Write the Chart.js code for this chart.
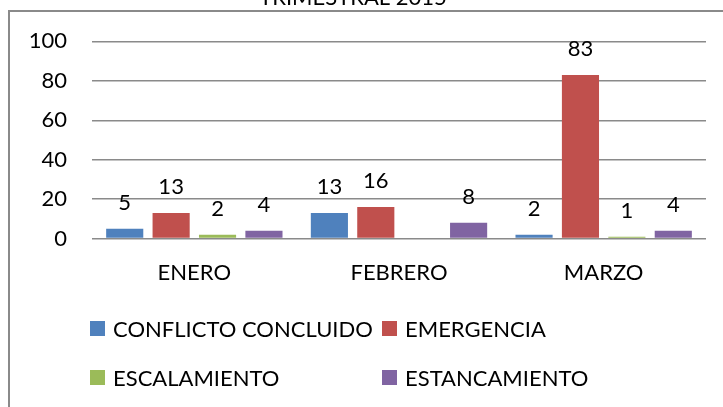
<!DOCTYPE html>
<html>
<head>
<meta charset="utf-8">
<script src="https://cdn.jsdelivr.net/npm/chart.js@4/dist/chart.umd.min.js"></script>
<style>
  body { margin: 0; background: #fff; width: 723px; height: 407px; overflow: hidden; position: relative; font-family: Lato, "Open Sans", sans-serif; }
  #c { position: absolute; left: 0; top: -15px; }
  .frame { position: absolute; left: 8px; top: 10px; width: 800px; height: 500px; border: 2px solid #8a8a8a; box-sizing: border-box; pointer-events: none; }
  #legend { position: absolute; left: 90px; top: 316px; display: grid; grid-template-columns: 292px auto; row-gap: 24px; }
  .item { display: flex; align-items: center; height: 25px; font-size: 22px; color: #000; }
  .sw { width: 15px; height: 15px; margin-right: 8px; }
</style>
</head>
<body>
<div class="frame"></div>
<canvas id="c" width="723" height="422"></canvas>
<div id="legend"></div>
<script>
const categories = ["ENERO", "FEBRERO", "MARZO"];
const seriesNames = ["CONFLICTO CONCLUIDO", "EMERGENCIA", "ESCALAMIENTO", "ESTANCAMIENTO"];
const conflictoConcluido = [5, 13, 2];
const emergencia = [13, 16, 83];
const escalamiento = [2, null, 1];
const estancamiento = [4, 8, 4];
const yTicks = [0, 20, 40, 60, 80, 100];
const colors = ["#4F81BD", "#C0504D", "#9BBB59", "#8064A2"];

const FONT = "Lato";

// numbers above the bars
const barLabels = {
  id: "barLabels",
  afterDatasetsDraw(chart) {
    const ctx = chart.ctx;
    ctx.save();
    ctx.font = "22px " + FONT;
    ctx.fillStyle = "#000";
    ctx.textAlign = "center";
    ctx.textBaseline = "alphabetic";
    chart.data.datasets.forEach((ds, i) => {
      const meta = chart.getDatasetMeta(i);
      meta.data.forEach((bar, j) => {
        const v = ds.data[j];
        if (v === null || v === undefined) return;
        ctx.fillText(String(v), bar.x, bar.y - 19);
      });
    });
    ctx.restore();
  }
};

const allSeries = [conflictoConcluido, emergencia, escalamiento, estancamiento];

new Chart(document.getElementById("c"), {
  type: "bar",
  data: {
    labels: categories,
    datasets: allSeries.map((d, i) => ({
      label: seriesNames[i],
      data: d,
      backgroundColor: colors[i],
      barPercentage: 0.8,
      categoryPercentage: 0.907
    }))
  },
  options: {
    responsive: false,
    devicePixelRatio: 1,
    animation: false,
    layout: { padding: { left: 0, right: 17, top: 0, bottom: 100 } },
    plugins: {
      legend: { display: false },
      tooltip: { enabled: false },
      title: {
        display: true,
        text: "TRIMESTRAL 2015",
        color: "#000",
        font: { family: FONT, size: 22, weight: "normal" },
        padding: { top: 0, bottom: 30 }
      }
    },
    scales: {
      x: {
        grid: { display: false, drawTicks: false },
        border: { display: false },
        ticks: { color: "#000", font: { family: FONT, size: 22 }, padding: 21 }
      },
      y: {
        min: 0,
        max: 100,
        afterBuildTicks: (s) => { s.ticks = yTicks.map(v => ({ value: v })); },
        afterFit: (s) => { s.width = 92; },
        grid: { color: "#8a8a8a", lineWidth: 1.5, drawTicks: false },
        border: { display: false },
        ticks: { color: "#000", font: { family: FONT, size: 22 }, padding: 25 }
      }
    }
  },
  plugins: [barLabels]
});

const legend = document.getElementById("legend");
seriesNames.forEach((name, i) => {
  const item = document.createElement("div");
  item.className = "item";
  const sw = document.createElement("span");
  sw.className = "sw";
  sw.style.background = colors[i];
  item.appendChild(sw);
  item.appendChild(document.createTextNode(name));
  legend.appendChild(item);
});
</script>
</body>
</html>
